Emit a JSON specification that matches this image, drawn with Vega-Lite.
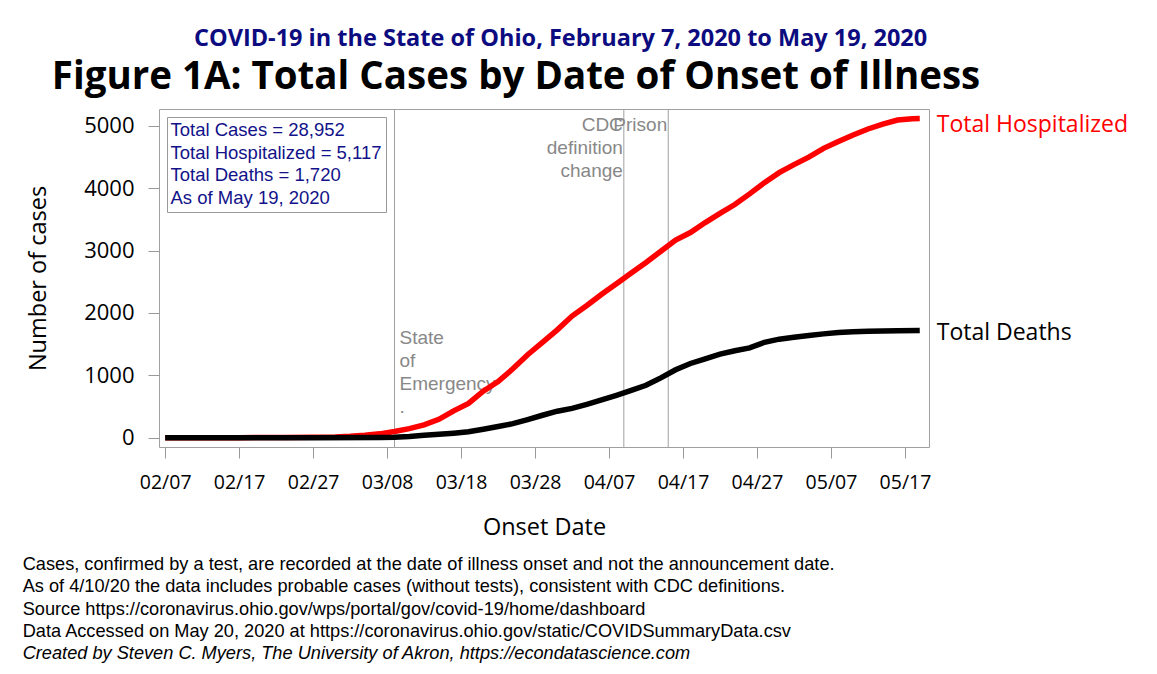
{
  "$schema": "https://vega.github.io/schema/vega-lite/v6.json",
  "autosize": {"type": "pad"},
  "padding": {"left": 22, "top": 27, "right": 10, "bottom": 10},
  "background": "white",
  "title": {
    "text": "COVID-19 in the State of Ohio, February 7, 2020 to May 19, 2020",
    "anchor": "middle",
    "frame": "bounds",
    "dx": -15,
    "font": "Open Sans",
    "fontSize": 23.5,
    "fontWeight": "bold",
    "color": "#0c0c80",
    "offset": 7
  },
  "datasets": {
    "series": [
      {"date": "2020-02-07", "series": "Total Hospitalized", "value": 0},
      {"date": "2020-02-17", "series": "Total Hospitalized", "value": 1},
      {"date": "2020-02-23", "series": "Total Hospitalized", "value": 3},
      {"date": "2020-02-27", "series": "Total Hospitalized", "value": 6},
      {"date": "2020-03-01", "series": "Total Hospitalized", "value": 12},
      {"date": "2020-03-03", "series": "Total Hospitalized", "value": 22},
      {"date": "2020-03-05", "series": "Total Hospitalized", "value": 38},
      {"date": "2020-03-07", "series": "Total Hospitalized", "value": 62},
      {"date": "2020-03-09", "series": "Total Hospitalized", "value": 100},
      {"date": "2020-03-11", "series": "Total Hospitalized", "value": 145},
      {"date": "2020-03-13", "series": "Total Hospitalized", "value": 205},
      {"date": "2020-03-15", "series": "Total Hospitalized", "value": 295},
      {"date": "2020-03-17", "series": "Total Hospitalized", "value": 430},
      {"date": "2020-03-19", "series": "Total Hospitalized", "value": 550},
      {"date": "2020-03-21", "series": "Total Hospitalized", "value": 745},
      {"date": "2020-03-23", "series": "Total Hospitalized", "value": 900},
      {"date": "2020-03-25", "series": "Total Hospitalized", "value": 1105},
      {"date": "2020-03-27", "series": "Total Hospitalized", "value": 1330},
      {"date": "2020-03-29", "series": "Total Hospitalized", "value": 1530},
      {"date": "2020-03-31", "series": "Total Hospitalized", "value": 1730},
      {"date": "2020-04-02", "series": "Total Hospitalized", "value": 1950},
      {"date": "2020-04-04", "series": "Total Hospitalized", "value": 2120},
      {"date": "2020-04-06", "series": "Total Hospitalized", "value": 2300},
      {"date": "2020-04-08", "series": "Total Hospitalized", "value": 2470},
      {"date": "2020-04-10", "series": "Total Hospitalized", "value": 2640},
      {"date": "2020-04-12", "series": "Total Hospitalized", "value": 2810},
      {"date": "2020-04-14", "series": "Total Hospitalized", "value": 2990},
      {"date": "2020-04-16", "series": "Total Hospitalized", "value": 3170},
      {"date": "2020-04-18", "series": "Total Hospitalized", "value": 3290},
      {"date": "2020-04-20", "series": "Total Hospitalized", "value": 3450},
      {"date": "2020-04-22", "series": "Total Hospitalized", "value": 3596},
      {"date": "2020-04-24", "series": "Total Hospitalized", "value": 3740},
      {"date": "2020-04-26", "series": "Total Hospitalized", "value": 3910},
      {"date": "2020-04-28", "series": "Total Hospitalized", "value": 4090},
      {"date": "2020-04-30", "series": "Total Hospitalized", "value": 4250},
      {"date": "2020-05-02", "series": "Total Hospitalized", "value": 4380},
      {"date": "2020-05-04", "series": "Total Hospitalized", "value": 4500},
      {"date": "2020-05-06", "series": "Total Hospitalized", "value": 4640},
      {"date": "2020-05-08", "series": "Total Hospitalized", "value": 4750},
      {"date": "2020-05-10", "series": "Total Hospitalized", "value": 4854},
      {"date": "2020-05-12", "series": "Total Hospitalized", "value": 4950},
      {"date": "2020-05-14", "series": "Total Hospitalized", "value": 5030},
      {"date": "2020-05-16", "series": "Total Hospitalized", "value": 5095},
      {"date": "2020-05-18", "series": "Total Hospitalized", "value": 5115},
      {"date": "2020-05-19", "series": "Total Hospitalized", "value": 5117},
      {"date": "2020-02-07", "series": "Total Deaths", "value": 0},
      {"date": "2020-02-27", "series": "Total Deaths", "value": 0},
      {"date": "2020-03-07", "series": "Total Deaths", "value": 3},
      {"date": "2020-03-09", "series": "Total Deaths", "value": 8},
      {"date": "2020-03-11", "series": "Total Deaths", "value": 20},
      {"date": "2020-03-13", "series": "Total Deaths", "value": 38},
      {"date": "2020-03-15", "series": "Total Deaths", "value": 54},
      {"date": "2020-03-17", "series": "Total Deaths", "value": 72},
      {"date": "2020-03-19", "series": "Total Deaths", "value": 95},
      {"date": "2020-03-21", "series": "Total Deaths", "value": 135},
      {"date": "2020-03-23", "series": "Total Deaths", "value": 180},
      {"date": "2020-03-25", "series": "Total Deaths", "value": 225},
      {"date": "2020-03-27", "series": "Total Deaths", "value": 290},
      {"date": "2020-03-29", "series": "Total Deaths", "value": 360},
      {"date": "2020-03-31", "series": "Total Deaths", "value": 425},
      {"date": "2020-04-02", "series": "Total Deaths", "value": 470},
      {"date": "2020-04-04", "series": "Total Deaths", "value": 535},
      {"date": "2020-04-06", "series": "Total Deaths", "value": 605},
      {"date": "2020-04-08", "series": "Total Deaths", "value": 680},
      {"date": "2020-04-10", "series": "Total Deaths", "value": 760},
      {"date": "2020-04-12", "series": "Total Deaths", "value": 841},
      {"date": "2020-04-14", "series": "Total Deaths", "value": 960},
      {"date": "2020-04-16", "series": "Total Deaths", "value": 1090},
      {"date": "2020-04-18", "series": "Total Deaths", "value": 1190},
      {"date": "2020-04-20", "series": "Total Deaths", "value": 1265},
      {"date": "2020-04-22", "series": "Total Deaths", "value": 1340},
      {"date": "2020-04-24", "series": "Total Deaths", "value": 1395},
      {"date": "2020-04-26", "series": "Total Deaths", "value": 1440},
      {"date": "2020-04-28", "series": "Total Deaths", "value": 1530},
      {"date": "2020-04-30", "series": "Total Deaths", "value": 1580},
      {"date": "2020-05-02", "series": "Total Deaths", "value": 1610},
      {"date": "2020-05-04", "series": "Total Deaths", "value": 1640},
      {"date": "2020-05-06", "series": "Total Deaths", "value": 1665},
      {"date": "2020-05-08", "series": "Total Deaths", "value": 1688},
      {"date": "2020-05-10", "series": "Total Deaths", "value": 1700},
      {"date": "2020-05-12", "series": "Total Deaths", "value": 1708},
      {"date": "2020-05-14", "series": "Total Deaths", "value": 1713},
      {"date": "2020-05-16", "series": "Total Deaths", "value": 1716},
      {"date": "2020-05-19", "series": "Total Deaths", "value": 1720}
    ],
    "events": [
      {"date": "2020-03-09", "event": "State of Emergency", "label": "State\nof\nEmergency\n."},
      {"date": "2020-04-09", "event": "CDC definition change", "label": "CDC\ndefinition\nchange"},
      {"date": "2020-04-15", "event": "Prison", "label": "Prison"}
    ],
    "stats": [
      {"label": "Total Cases = 28,952"},
      {"label": "Total Hospitalized = 5,117"},
      {"label": "Total Deaths = 1,720"},
      {"label": "As of May 19, 2020"}
    ]
  },
  "vconcat": [
    {
      "title": {
        "text": [
          "Cases, confirmed by a test, are recorded at the date of illness onset and not the announcement date.",
          "As of 4/10/20 the data includes probable cases (without tests), consistent with CDC definitions.",
          "Source https://coronavirus.ohio.gov/wps/portal/gov/covid-19/home/dashboard",
          "Data Accessed on May 20, 2020 at https://coronavirus.ohio.gov/static/COVIDSummaryData.csv"
        ],
        "subtitle": "Created by Steven C. Myers, The University of Akron, https://econdatascience.com",
        "orient": "bottom",
        "anchor": "start",
        "frame": "bounds",
        "font": "Liberation Sans",
        "fontSize": 18.2,
        "fontWeight": "normal",
        "color": "black",
        "lineHeight": 22.5,
        "subtitleFont": "Liberation Sans",
        "subtitleFontSize": 18.2,
        "subtitleFontStyle": "italic",
        "subtitleColor": "black",
        "subtitlePadding": 4,
        "offset": 16,
        "dx": -3
      },
      "vconcat": [
        {
          "width": 770,
          "height": 338,
          "title": {
            "text": "Figure 1A: Total Cases by Date of Onset of Illness",
            "anchor": "middle",
            "frame": "group",
            "dx": -28,
            "font": "Open Sans",
            "fontSize": 38.5,
            "fontWeight": "bold",
            "color": "black",
            "offset": 10
          },
          "layer": [
            {
              "data": {"name": "events"},
              "mark": {"type": "rule", "color": "#a0a0a0", "strokeWidth": 1},
              "encoding": {
                "x": {
                  "field": "date",
                  "type": "temporal",
                  "scale": {
                    "type": "utc",
                    "domain": [
                      {"year": 2020, "month": 2, "date": 6, "hours": 4, "utc": true},
                      {"year": 2020, "month": 5, "date": 20, "hours": 6, "utc": true}
                    ]
                  },
                  "axis": {
                    "title": "Onset Date",
                    "format": "%m/%d",
                    "values": [
                      {"year": 2020, "month": 2, "date": 7, "utc": true},
                      {"year": 2020, "month": 2, "date": 17, "utc": true},
                      {"year": 2020, "month": 2, "date": 27, "utc": true},
                      {"year": 2020, "month": 3, "date": 8, "utc": true},
                      {"year": 2020, "month": 3, "date": 18, "utc": true},
                      {"year": 2020, "month": 3, "date": 28, "utc": true},
                      {"year": 2020, "month": 4, "date": 7, "utc": true},
                      {"year": 2020, "month": 4, "date": 17, "utc": true},
                      {"year": 2020, "month": 4, "date": 27, "utc": true},
                      {"year": 2020, "month": 5, "date": 7, "utc": true},
                      {"year": 2020, "month": 5, "date": 17, "utc": true}
                    ],
                    "labelFontSize": 19.5,
                    "labelPadding": 15,
                    "titleFontSize": 23.5,
                    "titlePadding": 24
                  }
                }
              }
            },
            {
              "data": {"name": "events"},
              "transform": [{"filter": "datum.event == 'State of Emergency'"}],
              "mark": {"type": "text", "align": "left", "baseline": "top", "dx": 5, "lineBreak": "\n", "lineHeight": 23, "font": "Liberation Sans", "fontSize": 19, "color": "#888888"},
              "encoding": {
                "x": {"field": "date", "type": "temporal"},
                "y": {"datum": 1745, "type": "quantitative"},
                "text": {"field": "label"}
              }
            },
            {
              "data": {"name": "events"},
              "transform": [{"filter": "datum.event != 'State of Emergency'"}],
              "mark": {"type": "text", "align": "right", "baseline": "top", "dx": -1, "lineBreak": "\n", "lineHeight": 23, "font": "Liberation Sans", "fontSize": 19, "color": "#888888"},
              "encoding": {
                "x": {"field": "date", "type": "temporal"},
                "y": {"datum": 5165, "type": "quantitative"},
                "text": {"field": "label"}
              }
            },
            {
              "data": {"name": "series"},
              "transform": [{"filter": "datum.series == 'Total Hospitalized'"}],
              "mark": {"type": "line", "color": "#ff0000", "strokeWidth": 5.5},
              "encoding": {
                "x": {"field": "date", "type": "temporal"},
                "y": {
                  "field": "value",
                  "type": "quantitative",
                  "scale": {"domain": [-149, 5271], "nice": false, "zero": false},
                  "axis": {
                    "title": "Number of cases",
                    "format": "d",
                    "values": [0, 1000, 2000, 3000, 4000, 5000],
                    "labelFontSize": 22,
                    "labelPadding": 14,
                    "titleFontSize": 23.5,
                    "titlePadding": 33.5
                  }
                }
              }
            },
            {
              "data": {"name": "series"},
              "transform": [{"filter": "datum.series == 'Total Deaths'"}],
              "mark": {"type": "line", "color": "#000000", "strokeWidth": 5.5},
              "encoding": {
                "x": {"field": "date", "type": "temporal"},
                "y": {"field": "value", "type": "quantitative"}
              }
            },
            {
              "data": {"name": "series"},
              "transform": [
                {"filter": "datum.series == 'Total Hospitalized'"},
                {"window": [{"op": "row_number", "as": "r"}], "sort": [{"field": "date", "order": "descending"}]},
                {"filter": "datum.r == 1"}
              ],
              "mark": {"type": "text", "align": "left", "baseline": "middle", "dx": 17, "dy": 6, "font": "Open Sans", "fontSize": 23, "color": "#ff0000"},
              "encoding": {
                "x": {"field": "date", "type": "temporal"},
                "y": {"field": "value", "type": "quantitative"},
                "text": {"field": "series"}
              }
            },
            {
              "data": {"name": "series"},
              "transform": [
                {"filter": "datum.series == 'Total Deaths'"},
                {"window": [{"op": "row_number", "as": "r"}], "sort": [{"field": "date", "order": "descending"}]},
                {"filter": "datum.r == 1"}
              ],
              "mark": {"type": "text", "align": "left", "baseline": "middle", "dx": 17, "dy": 3, "font": "Open Sans", "fontSize": 23, "color": "#000000"},
              "encoding": {
                "x": {"field": "date", "type": "temporal"},
                "y": {"field": "value", "type": "quantitative"},
                "text": {"field": "series"}
              }
            },
            {
              "data": {"name": "stats"},
              "mark": {"type": "point", "opacity": 0},
              "encoding": {
                "shape": {
                  "field": "label",
                  "type": "nominal",
                  "sort": null,
                  "legend": {
                    "title": null,
                    "orient": "top-left",
                    "offset": 8,
                    "labelFont": "Liberation Sans",
                    "labelFontSize": 18.5,
                    "labelColor": "#12128a",
                    "labelOffset": -19,
                    "labelLimit": 500,
                    "symbolSize": 0,
                    "symbolOpacity": 0,
                    "symbolStrokeWidth": 0,
                    "padding": 4,
                    "rowPadding": 3.5,
                    "strokeColor": "#999999",
                    "fillColor": "white"
                  }
                }
              }
            }
          ]
        }
      ]
    }
  ],
  "config": {
    "view": {"stroke": "#a0a0a0", "strokeWidth": 1},
    "axis": {
      "domain": false,
      "grid": false,
      "ticks": true,
      "tickSize": 11,
      "tickColor": "#999999",
      "labelColor": "black",
      "titleColor": "black",
      "labelFont": "Open Sans",
      "titleFont": "Open Sans",
      "titleFontWeight": "normal"
    }
  }
}
